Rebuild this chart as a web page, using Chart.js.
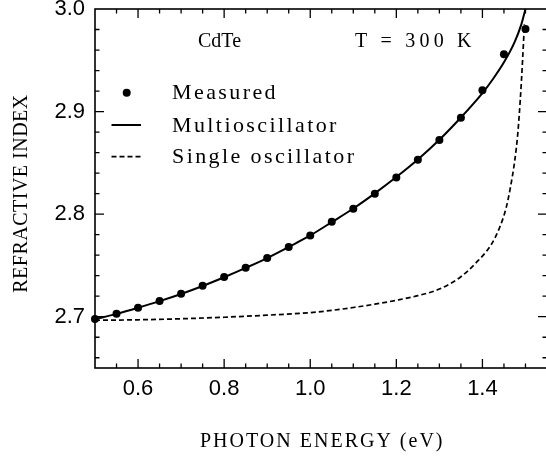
<!DOCTYPE html>
<html>
<head>
<meta charset="utf-8">
<title>CdTe refractive index</title>
<script src="https://cdn.jsdelivr.net/npm/chart.js@4.4.1/dist/chart.umd.min.js"></script>
<style>
    html, body { margin: 0; padding: 0; background: #fff; overflow: hidden; }
    #wrap { width: 552px; height: 458px; }
</style>
</head>
<body>
<div id="wrap"><canvas id="myChart"></canvas></div>
<script>
// photon energy (eV) and refractive index, CdTe at 300 K
var measuredE = [0.50, 0.55, 0.60, 0.65, 0.70, 0.75, 0.80, 0.85, 0.90, 0.95, 1.00,
                 1.05, 1.10, 1.15, 1.20, 1.25, 1.30, 1.35, 1.40, 1.45, 1.50];
var measuredN = [2.6978, 2.7030, 2.7088, 2.7152, 2.7224, 2.7302, 2.7387, 2.7478, 2.7572, 2.7679, 2.7792,
                 2.7925, 2.8053, 2.8199, 2.8358, 2.8530, 2.8722, 2.8940, 2.9207, 2.9560, 2.9805];

// multioscillator fit
var multiE = [0.50, 0.55, 0.60, 0.65, 0.70, 0.75, 0.80, 0.85, 0.90, 0.95, 1.00, 1.05,
              1.10, 1.15, 1.20, 1.25, 1.30, 1.35, 1.40, 1.425, 1.45, 1.475, 1.49, 1.50];
var multiN = [2.6975, 2.7028, 2.7088, 2.7152, 2.7222, 2.7300, 2.7385, 2.7476, 2.7572, 2.7680, 2.7792, 2.7922,
              2.8055, 2.8203, 2.8362, 2.8533, 2.8725, 2.8942, 2.9180, 2.9320, 2.9480, 2.9680, 2.9845, 3.0000];

// single oscillator fit
var singleE = [0.50, 0.60, 0.70, 0.80, 0.90, 1.00, 1.05, 1.10, 1.15, 1.20, 1.25, 1.30, 1.35, 1.385,
               1.42, 1.44, 1.455, 1.465, 1.475, 1.482, 1.488, 1.493, 1.4975];
var singleN = [2.6965, 2.6970, 2.6980, 2.6995, 2.7015, 2.7040, 2.7062, 2.7090, 2.7122, 2.7160, 2.7205, 2.7270, 2.7390, 2.7525,
               2.7700, 2.7870, 2.8060, 2.8260, 2.8520, 2.8780, 2.9120, 2.9480, 2.9850];

var xMajor = [0.6, 0.8, 1.0, 1.2, 1.4];
var yMajor = [2.7, 2.8, 2.9, 3.0];

function pairs(xs, ys) {
    var out = [];
    for (var i = 0; i < xs.length; i++) {
        out.push({x: xs[i], y: ys[i]});
    }
    return out;
}

function inList(list, v) {
    return list.some(function (m) { return Math.abs(m - v) < 1e-6; });
}

// box round the plot with inward ticks on all four sides
var frameTicks = {
    id: 'frameTicks',
    beforeDatasetsDraw: function (chart) {
        var ctx = chart.ctx, a = chart.chartArea;
        var xs = chart.scales.x, ys = chart.scales.y;
        ctx.save();
        ctx.strokeStyle = '#000';
        ctx.lineWidth = 1.6;
        ctx.strokeRect(a.left, a.top, a.right - a.left, a.bottom - a.top);
        ctx.lineWidth = 1.3;
        ctx.beginPath();
        for (var i = 1; i <= 20; i++) {
            var e = 0.5 + i * 0.05;
            var px = xs.getPixelForValue(e);
            var len = inList(xMajor, e) ? 9 : 4.5;
            ctx.moveTo(px, a.bottom); ctx.lineTo(px, a.bottom - len);
            ctx.moveTo(px, a.top); ctx.lineTo(px, a.top + len);
        }
        for (var j = 0; j <= 16; j++) {
            var n = 2.66 + j * 0.02;
            var py = ys.getPixelForValue(n);
            var l2 = inList(yMajor, n) ? 9 : 4.5;
            ctx.moveTo(a.left, py); ctx.lineTo(a.left + l2, py);
            ctx.moveTo(a.right, py); ctx.lineTo(a.right - l2, py);
        }
        ctx.stroke();
        ctx.restore();
    }
};

function spacedText(ctx, text, x, y, font, spacing) {
    ctx.font = font;
    ctx.letterSpacing = spacing + 'px';
    ctx.fillText(text, x, y);
}

// titles, labels and the legend inside the plot
var labels = {
    id: 'labels',
    afterDraw: function (chart) {
        var ctx = chart.ctx;
        var sets = chart.data.datasets;
        ctx.save();
        ctx.fillStyle = '#000';
        ctx.strokeStyle = '#000';
        ctx.textAlign = 'left';
        ctx.textBaseline = 'alphabetic';

        spacedText(ctx, 'CdTe', 198, 47, '20px "Liberation Serif"', 0);
        spacedText(ctx, 'T = 300 K', 355, 47, '20px "Liberation Serif"', 4.2);

        // legend
        ctx.beginPath();
        ctx.arc(126.7, 92.7, sets[0].pointRadius, 0, Math.PI * 2);
        ctx.fill();
        spacedText(ctx, sets[0].label, 172, 98.5, '22px "Liberation Serif"', 2.4);

        ctx.lineWidth = sets[1].borderWidth;
        ctx.beginPath();
        ctx.moveTo(111.5, 125); ctx.lineTo(141, 125);
        ctx.stroke();
        spacedText(ctx, sets[1].label, 172, 131.5, '22px "Liberation Serif"', 2.4);

        ctx.lineWidth = sets[2].borderWidth;
        ctx.setLineDash(sets[2].borderDash);
        ctx.beginPath();
        ctx.moveTo(111.5, 156.7); ctx.lineTo(141, 156.7);
        ctx.stroke();
        ctx.setLineDash([]);
        spacedText(ctx, sets[2].label, 172, 163.3, '22px "Liberation Serif"', 2.4);

        // axis titles
        spacedText(ctx, 'PHOTON ENERGY (eV)', 200, 446.7, '20px "Liberation Serif"', 2);
        ctx.translate(27, 193.5);
        ctx.rotate(-Math.PI / 2);
        ctx.textAlign = 'center';
        spacedText(ctx, 'REFRACTIVE INDEX', 0, 0, '20px "Liberation Serif"', 0.5);
        ctx.restore();
    }
};

var ctx = document.getElementById('myChart').getContext('2d');
var myChart = new Chart(ctx, {
    type: 'scatter',
    data: {
        datasets: [{
            label: 'Measured',
            data: pairs(measuredE, measuredN),
            showLine: false,
            pointRadius: 4,
            pointBackgroundColor: '#000',
            pointBorderWidth: 0,
            clip: false
        }, {
            label: 'Multioscillator',
            data: pairs(multiE, multiN),
            showLine: true,
            pointRadius: 0,
            borderColor: '#000',
            borderWidth: 2,
            cubicInterpolationMode: 'monotone'
        }, {
            label: 'Single oscillator',
            data: pairs(singleE, singleN),
            showLine: true,
            pointRadius: 0,
            borderColor: '#000',
            borderWidth: 1.7,
            borderDash: [5, 3],
            cubicInterpolationMode: 'monotone'
        }]
    },
    options: {
        responsive: true,
        maintainAspectRatio: false,
        animation: false,
        layout: { padding: { top: 9, right: 5, bottom: 0, left: 0 } },
        plugins: {
            legend: { display: false },
            tooltip: { enabled: false }
        },
        scales: {
            x: {
                type: 'linear',
                min: 0.5,
                max: 1.55,
                grid: { display: false },
                border: { display: false },
                afterBuildTicks: function (s) {
                    s.ticks = xMajor.map(function (v) { return {value: v}; });
                },
                afterFit: function (s) {
                    s.height = 90;
                    s.paddingLeft = 0;
                    s.paddingRight = 0;
                },
                ticks: {
                    autoSkip: false,
                    maxRotation: 0,
                    padding: 0,
                    color: '#000',
                    font: { family: '"Liberation Sans"', size: 22 },
                    callback: function (v) { return v.toFixed(1); }
                }
            },
            y: {
                min: 2.65,
                max: 3.0,
                grid: { display: false },
                border: { display: false },
                afterBuildTicks: function (s) {
                    s.ticks = yMajor.map(function (v) { return {value: v}; });
                },
                afterFit: function (s) {
                    s.width = 95;
                    s.paddingTop = 0;
                    s.paddingBottom = 0;
                },
                ticks: {
                    autoSkip: false,
                    padding: 2,
                    color: '#000',
                    font: { family: '"Liberation Sans"', size: 22 },
                    callback: function (v) { return v.toFixed(1); }
                }
            }
        }
    },
    plugins: [frameTicks, labels]
});
</script>
</body>
</html>
